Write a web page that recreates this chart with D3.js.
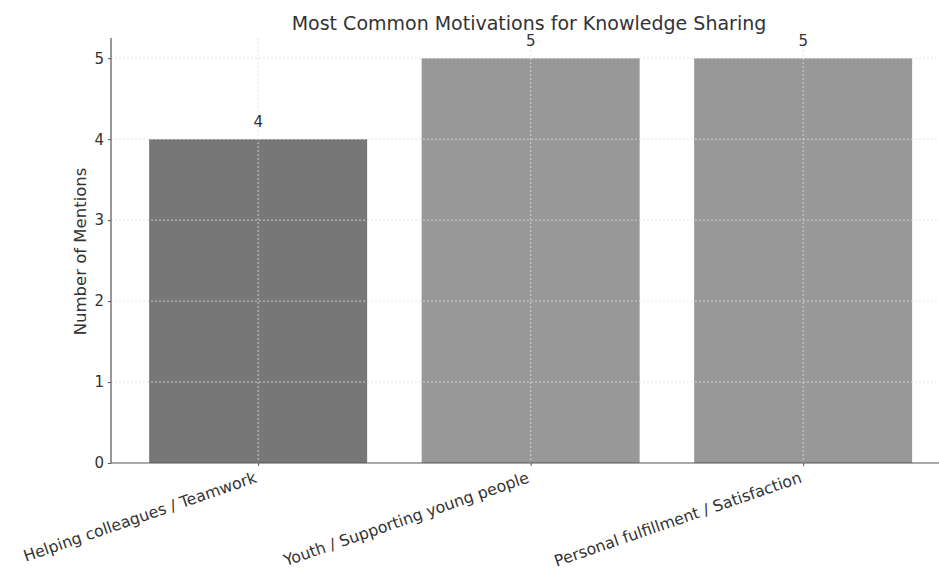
<!DOCTYPE html>
<html>
<head>
<meta charset="utf-8">
<script src="https://cdn.jsdelivr.net/npm/d3@7"></script>
<style>
  html, body { margin: 0; padding: 0; background: #fff; }
  svg { display: block; font-family: "DejaVu Sans", sans-serif; }
</style>
</head>
<body>
<svg id="chart" width="939" height="572"></svg>
<script>
const categories = ["Helping colleagues / Teamwork", "Youth / Supporting young people", "Personal fulfillment / Satisfaction"];
const mentions = [4, 5, 5];
const barColors = ["#777777", "#989898", "#989898"];
const yTicks = [0, 1, 2, 3, 4, 5];
const titleText = "Most Common Motivations for Knowledge Sharing";
const yLabelText = "Number of Mentions";

(function () {
const svg = d3.select("#chart");
const plotLeft = 111, baseline = 463, plotTop = 38;
const n = categories.length;
const barW = 0.8;
// matplotlib-like limits: data -0.4..n-0.6 plus 5% margin
const xLo = -barW / 2 - 0.05 * (n - 1 + barW);
const xHi = n - 1 + barW / 2 + 0.05 * (n - 1 + barW);
const unit = 272.5;
const x = d3.scaleLinear().domain([xLo, xHi]).range([plotLeft, plotLeft + (xHi - xLo) * unit]);
const yMax = d3.max(mentions) * 1.05;
const y = d3.scaleLinear().domain([0, yMax]).range([baseline, plotTop]);

// bars
svg.append("g").selectAll("rect").data(mentions).join("rect")
  .attr("x", (d, i) => x(i - barW / 2))
  .attr("width", (d, i) => x(i + barW / 2) - x(i - barW / 2))
  .attr("y", d => y(d))
  .attr("height", d => y(0) - y(d))
  .attr("fill", (d, i) => barColors[i]);

// grid (drawn on top, like the reference)
const grid = svg.append("g").attr("stroke", "#e0e0e0").attr("stroke-width", 0.8).attr("stroke-dasharray", "2,2");
grid.selectAll("line.h").data(yTicks.filter(t => t > 0)).join("line")
  .attr("x1", plotLeft).attr("x2", 939).attr("y1", d => y(d)).attr("y2", d => y(d));
grid.selectAll("line.v").data(d3.range(n)).join("line")
  .attr("x1", d => x(d)).attr("x2", d => x(d)).attr("y1", plotTop).attr("y2", baseline);

// axes
const yAxis = d3.axisLeft(y).tickValues(yTicks).tickFormat(d3.format("d")).tickSize(3).tickPadding(4);
const gy = svg.append("g").attr("transform", `translate(${plotLeft},0)`).call(yAxis);
gy.select(".domain").attr("stroke", "#555").attr("stroke-width", 1.2).attr("d", `M0,${plotTop}V${baseline}`);
gy.selectAll(".tick line").attr("stroke", "#555");
gy.selectAll(".tick text").attr("font-size", 15).attr("fill", "#333").attr("font-family", "DejaVu Sans");

const xAxis = d3.axisBottom(x).tickValues(d3.range(n)).tickFormat(i => categories[i]).tickSize(3).tickPadding(3);
const gx = svg.append("g").attr("transform", `translate(0,${baseline})`).call(xAxis);
gx.select(".domain").attr("stroke", "#555").attr("stroke-width", 1.2).attr("d", `M${plotLeft},0H939`);
gx.selectAll(".tick line").attr("stroke", "#555");
gx.selectAll(".tick text")
  .attr("font-size", 15.8).attr("fill", "#333").attr("font-family", "DejaVu Sans")
  .attr("text-anchor", "end")
  .attr("x", 0).attr("y", 0).attr("dy", 0)
  .attr("transform", "translate(-1,19) rotate(-19)");

// value labels
svg.append("g").selectAll("text").data(mentions).join("text")
  .attr("x", (d, i) => x(i))
  .attr("y", d => y(d) - 12)
  .attr("text-anchor", "middle")
  .attr("font-size", 15).attr("fill", "#333")
  .text(d => d);

// title
svg.append("text").attr("x", 529).attr("y", 30).attr("text-anchor", "middle")
  .attr("font-size", 19).attr("fill", "#333").text(titleText);

// y label
svg.append("text").attr("transform", `translate(86,${(plotTop + baseline) / 2 + 1}) rotate(-90)`)
  .attr("text-anchor", "middle").attr("font-size", 16.5).attr("fill", "#333").text(yLabelText);
})();
</script>
</body>
</html>
